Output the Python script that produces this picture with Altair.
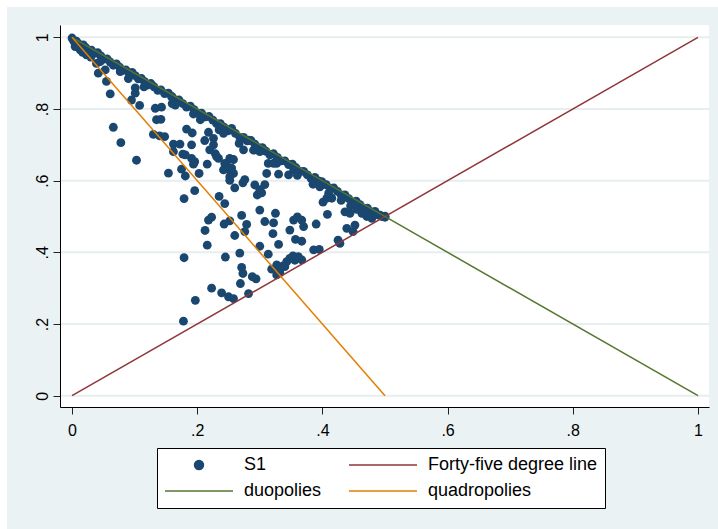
import json
import altair as alt
import pandas as pd

# ---------------- data ----------------
SERIES = ["S1", "Forty-five degree line", "duopolies", "quadropolies"]
COLORS = ["#1A476F", "#90353B", "#55752F", "#E37E00"]

# S1 points lying along the upper edge (just under the duopoly line)
BAND_X = [0.000, 0.002, 0.004, 0.007, 0.010, 0.014, 0.018, 0.022, 0.027, 0.031,
          0.036, 0.041, 0.046, 0.051, 0.056, 0.061, 0.066, 0.071, 0.076, 0.081,
          0.086, 0.091, 0.096, 0.101, 0.106, 0.111, 0.116, 0.121, 0.126, 0.131,
          0.137, 0.142, 0.148, 0.154, 0.160, 0.165, 0.171, 0.177, 0.183, 0.189,
          0.195, 0.201, 0.207, 0.213, 0.219, 0.225, 0.231, 0.237, 0.243, 0.249,
          0.255, 0.261, 0.268, 0.274, 0.280, 0.286, 0.292, 0.298, 0.304, 0.310,
          0.316, 0.322, 0.328, 0.334, 0.340, 0.346, 0.352, 0.358, 0.364, 0.370,
          0.376, 0.382, 0.388, 0.394, 0.400, 0.406, 0.412, 0.418, 0.424, 0.430,
          0.436, 0.442, 0.448, 0.454, 0.460, 0.466, 0.472, 0.478, 0.484, 0.490,
          0.495, 0.500]
BAND_Y = [0.998, 0.992, 0.986, 0.989, 0.982, 0.974, 0.979, 0.971, 0.962, 0.964,
          0.955, 0.957, 0.948, 0.939, 0.940, 0.931, 0.922, 0.926, 0.917, 0.908,
          0.909, 0.900, 0.902, 0.893, 0.884, 0.885, 0.876, 0.867, 0.871, 0.862,
          0.852, 0.853, 0.843, 0.844, 0.834, 0.825, 0.825, 0.815, 0.805, 0.808,
          0.798, 0.788, 0.788, 0.778, 0.779, 0.769, 0.759, 0.759, 0.749, 0.739,
          0.742, 0.732, 0.721, 0.721, 0.711, 0.712, 0.702, 0.692, 0.692, 0.682,
          0.672, 0.675, 0.665, 0.655, 0.655, 0.645, 0.646, 0.636, 0.626, 0.626,
          0.616, 0.606, 0.609, 0.599, 0.589, 0.589, 0.579, 0.580, 0.570, 0.560,
          0.560, 0.550, 0.540, 0.543, 0.533, 0.523, 0.523, 0.513, 0.514, 0.504,
          0.500, 0.498]

# S1 points inside the triangle
INNER_POINTS = [
    (0.042, 0.900), (0.055, 0.877), (0.061, 0.842), (0.066, 0.749), (0.078, 0.706),
    (0.103, 0.657), (0.095, 0.825), (0.101, 0.859), (0.101, 0.844), (0.108, 0.810),
    (0.090, 0.885), (0.077, 0.904), (0.053, 0.909), (0.039, 0.927), (0.045, 0.932),
    (0.023, 0.951), (0.013, 0.965), (0.005, 0.974), (0.008, 0.975), (0.017, 0.958),
    (0.030, 0.945), (0.133, 0.802), (0.143, 0.805), (0.135, 0.770), (0.142, 0.771),
    (0.130, 0.729), (0.140, 0.725), (0.148, 0.723), (0.154, 0.621), (0.159, 0.834),
    (0.165, 0.811), (0.162, 0.702), (0.162, 0.681), (0.115, 0.862), (0.160, 0.815),
    (0.1725, 0.702), (0.177, 0.674), (0.175, 0.632), (0.181, 0.613), (0.179, 0.550),
    (0.196, 0.572), (0.183, 0.744), (0.192, 0.733), (0.191, 0.700), (0.194, 0.646),
    (0.203, 0.620), (0.191, 0.662), (0.196, 0.653), (0.181, 0.672), (0.216, 0.646),
    (0.212, 0.712), (0.218, 0.735), (0.226, 0.718), (0.226, 0.700), (0.220, 0.686),
    (0.229, 0.675), (0.234, 0.662), (0.231, 0.667), (0.235, 0.556), (0.244, 0.536),
    (0.194, 0.786), (0.205, 0.770), (0.235, 0.742), (0.252, 0.601), (0.244, 0.648),
    (0.258, 0.659), (0.252, 0.662), (0.252, 0.630), (0.255, 0.635), (0.258, 0.620),
    (0.247, 0.644), (0.242, 0.630), (0.252, 0.611), (0.260, 0.580), (0.273, 0.594),
    (0.276, 0.603), (0.267, 0.704), (0.274, 0.686), (0.241, 0.745), (0.255, 0.746),
    (0.242, 0.732), (0.218, 0.490), (0.223, 0.498), (0.2125, 0.461), (0.216, 0.420),
    (0.243, 0.479), (0.252, 0.488), (0.260, 0.447), (0.279, 0.478), (0.271, 0.503),
    (0.276, 0.458), (0.268, 0.398), (0.245, 0.387), (0.179, 0.385), (0.271, 0.358),
    (0.273, 0.341), (0.269, 0.313), (0.288, 0.332), (0.294, 0.326), (0.223, 0.300),
    (0.239, 0.287), (0.250, 0.276), (0.258, 0.271), (0.282, 0.285), (0.197, 0.266),
    (0.178, 0.208), (0.292, 0.588), (0.296, 0.560), (0.300, 0.518), (0.308, 0.589),
    (0.303, 0.566), (0.300, 0.575), (0.311, 0.620), (0.308, 0.486), (0.322, 0.482),
    (0.325, 0.509), (0.321, 0.452), (0.330, 0.422), (0.300, 0.417), (0.3135, 0.395),
    (0.348, 0.462), (0.354, 0.490), (0.360, 0.499), (0.357, 0.436), (0.367, 0.490),
    (0.370, 0.472), (0.367, 0.431), (0.390, 0.479), (0.386, 0.407), (0.395, 0.408),
    (0.408, 0.506), (0.401, 0.540), (0.407, 0.551), (0.415, 0.551), (0.396, 0.583),
    (0.399, 0.597), (0.425, 0.434), (0.428, 0.425), (0.436, 0.513), (0.444, 0.509),
    (0.439, 0.467), (0.452, 0.476), (0.449, 0.458), (0.463, 0.509), (0.471, 0.500),
    (0.473, 0.513), (0.479, 0.495), (0.484, 0.509), (0.492, 0.504), (0.500, 0.501),
    (0.346, 0.616), (0.354, 0.630), (0.327, 0.648), (0.3135, 0.648), (0.322, 0.648),
    (0.330, 0.618), (0.306, 0.686), (0.300, 0.681), (0.282, 0.713), (0.367, 0.379),
    (0.319, 0.353), (0.327, 0.365), (0.332, 0.351), (0.337, 0.362), (0.343, 0.374),
    (0.348, 0.383), (0.353, 0.390), (0.356, 0.378), (0.3615, 0.388), (0.327, 0.337),
    (0.332, 0.343), (0.340, 0.360), (0.290, 0.685), (0.325, 0.652), (0.360, 0.615),
    (0.385, 0.590), (0.410, 0.565), (0.430, 0.545), (0.455, 0.520), (0.470, 0.505),
    (0.445, 0.530),
]

# reference lines (end points)
LINE45_X, LINE45_Y = [0.0, 1.0], [0.0, 1.0]
DUO_X, DUO_Y = [0.0, 1.0], [1.0, 0.0]
QUAD_X, QUAD_Y = [0.0, 0.5], [1.0, 0.0]

TICK_VALUES = [0, 0.2, 0.4, 0.6, 0.8, 1.0]
TICK_LABELS = ["0", ".2", ".4", ".6", ".8", "1"]

# ---------------- tables ----------------
pts_x = BAND_X + [p[0] for p in INNER_POINTS]
pts_y = BAND_Y + [p[1] for p in INNER_POINTS]
scatter_df = pd.DataFrame({"x": pts_x, "y": pts_y, "series": "S1"})

lines_df = pd.concat([
    pd.DataFrame({"x": LINE45_X, "y": LINE45_Y, "series": SERIES[1], "o": [0, 1]}),
    pd.DataFrame({"x": DUO_X, "y": DUO_Y, "series": SERIES[2], "o": [0, 1]}),
    pd.DataFrame({"x": QUAD_X, "y": QUAD_Y, "series": SERIES[3], "o": [0, 1]}),
], ignore_index=True)

grid_df = pd.DataFrame({"v": TICK_VALUES})

# ---------------- layout ----------------
W, H = 649, 382
FONT = "Liberation Sans"
label_expr = f"{json.dumps(TICK_LABELS)}[round(datum.value*5)]"

xscale = alt.Scale(domain=[-0.0192, 1.0176], nice=False, zero=False)
yscale = alt.Scale(domain=[-0.0315, 1.0343], nice=False, zero=False)

xaxis = alt.Axis(values=TICK_VALUES, labelExpr=label_expr, title=None, grid=False,
                 domainColor="black", domainWidth=1, tickColor="#222", tickSize=7,
                 tickWidth=1, labelFont=FONT, labelFontSize=16, labelColor="black",
                 labelPadding=8, labelFlush=False, zindex=2)
yaxis = alt.Axis(values=TICK_VALUES, labelExpr=label_expr, title=None, grid=False,
                 domainColor="black", domainWidth=1, tickColor="#222", tickSize=7,
                 tickWidth=1, labelFont=FONT, labelFontSize=16, labelColor="black",
                 labelAngle=270, labelAlign="center", labelBaseline="alphabetic",
                 labelPadding=6, labelFlush=False, zindex=2)

color_scale = alt.Scale(domain=SERIES, range=COLORS)
legend = alt.Legend(
    title=None, orient="none", legendX=97, legendY=423, columns=2,
    direction="horizontal",
    columnPadding=26, rowPadding=6, padding=7, strokeColor="black",
    fillColor="white", labelFont=FONT, labelFontSize=18, labelColor="black",
    labelOffset=10, labelLimit=400, clipHeight=20,
    symbolType=alt.ExprRef(expr="datum.value == 'S1' ? 'circle' : 'stroke'"),
    symbolSize=alt.ExprRef(expr="datum.value == 'S1' ? 80 : 4624"),
    symbolFillColor=alt.ExprRef(expr="datum.value == 'S1' ? '#1A476F' : 'transparent'"),
    symbolStrokeColor=alt.ExprRef(expr="scale('color', datum.value)"),
    symbolStrokeWidth=1.5, symbolOpacity=1,
)

one = alt.Data(values=[{"a": 1}])

bg = alt.Chart(one).mark_rect(color="#EAF2F3", clip=False).encode(
    x=alt.value(-53), x2=alt.value(658), y=alt.value(-18), y2=alt.value(504))
plot_bg = alt.Chart(one).mark_rect(color="white", clip=False).encode(
    x=alt.value(0), x2=alt.value(W), y=alt.value(0), y2=alt.value(H))

grid = alt.Chart(grid_df).mark_rule(color="#E6EEF0", strokeWidth=2).encode(
    y=alt.Y("v:Q", scale=yscale, axis=yaxis))

points = alt.Chart(scatter_df).mark_circle(size=78, opacity=1).encode(
    x=alt.X("x:Q", scale=xscale, axis=xaxis),
    y=alt.Y("y:Q", scale=yscale, axis=yaxis),
    color=alt.Color("series:N", scale=color_scale, legend=legend),
)

lines = alt.Chart(lines_df).mark_line(strokeWidth=1.5).encode(
    x=alt.X("x:Q", scale=xscale, axis=xaxis),
    y=alt.Y("y:Q", scale=yscale, axis=yaxis),
    color=alt.Color("series:N", scale=color_scale, legend=legend),
    detail="series:N",
    order="o:Q",
)

chart = alt.layer(bg, plot_bg, grid, points, lines).properties(
    width=W, height=H,
    padding={"left": 60, "top": 25, "right": 9, "bottom": 122},
    autosize=alt.AutoSizeParams(type="none"),
    background="white",
).configure_view(strokeWidth=0)

chart.save("out.html", embed_options={"renderer": "svg", "actions": False})
